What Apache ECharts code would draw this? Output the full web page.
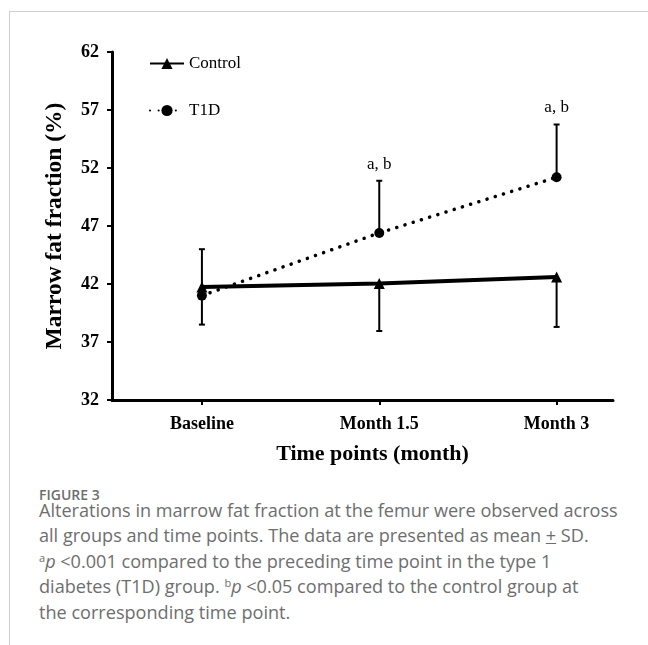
<!DOCTYPE html>
<html>
<head>
<meta charset="utf-8">
<script src="https://cdn.jsdelivr.net/npm/echarts@6/dist/echarts.min.js"></script>
<style>
  html, body { margin: 0; padding: 0; background: #fff; }
  #wrap { position: relative; width: 648px; height: 645px; overflow: hidden; }
  #frame { position: absolute; left: 9px; top: 11px; right: -2px; bottom: -2px;
           border-left: 1px solid #cfcfcf; border-top: 1px solid #cfcfcf; }
  #chart { position: absolute; left: 0; top: 0; width: 648px; height: 470px; }
  .cap { position: absolute; left: 39px; color: #6e6e6e; font-family: "Open Sans", "Noto Sans", sans-serif; }
  #figno { top: 486px; font-size: 14px; line-height: 18px; font-weight: 600; }
  #captxt { top: 498px; font-size: 18.1px; line-height: 25.4px; white-space: nowrap; }
  #captxt sup { font-size: 11px; vertical-align: 6px; line-height: 0; }
</style>
</head>
<body>
<div id="wrap">
  <div id="frame"></div>
  <div id="chart"></div>
  <div class="cap" id="figno">FIGURE 3</div>
  <div class="cap" id="captxt">
    Alterations in marrow fat fraction at the femur were observed across<br>
    all groups and time points. The data are presented as mean <u>+</u> SD.<br>
    <sup>a</sup><i>p</i> &lt;0.001 compared to the preceding time point in the type 1<br>
    diabetes (T1D) group. <sup>b</sup><i>p</i> &lt;0.05 compared to the control group at<br>
    the corresponding time point.
  </div>
</div>
<script>
"use strict";

// 时间点
const categories = ["Baseline", "Month 1.5", "Month 3"];
// 均值
const controlMean = [41.75, 42.05, 42.6];
const t1dMean     = [41.0, 46.4, 51.2];
// 标准差（对照组画下方误差线，T1D 画上方误差线）
const controlSD   = [3.25, 4.1, 4.3];
const t1dSD       = [4.0, 4.5, 4.55];
// 显著性标注
const t1dMarks    = ["", "a, b", "a, b"];

const SERIF = '"Liberation Serif", "Times New Roman", serif';

const chart = echarts.init(document.getElementById("chart"));

const toPts = arr => arr.map((v, i) => [i, v]);

// 误差线数据: [x, 端点, 均值, 标注]
const errData = [];
categories.forEach((c, i) => {
  errData.push([i, controlMean[i] - controlSD[i], controlMean[i], ""]);
  errData.push([i, t1dMean[i] + t1dSD[i], t1dMean[i], t1dMarks[i]]);
});

function renderErr(params, api) {
  const x    = api.value(0);
  const end  = api.coord([x, api.value(1)]);
  const mid  = api.coord([x, api.value(2)]);
  const mark = errData[params.dataIndex][3];
  const cap  = 3;
  const st   = { stroke: "#000", lineWidth: 2 };
  const children = [
    { type: "line", shape: { x1: mid[0], y1: mid[1], x2: end[0], y2: end[1] }, style: st },
    { type: "line", shape: { x1: end[0] - cap, y1: end[1], x2: end[0] + cap, y2: end[1] }, style: st }
  ];
  if (mark) {
    children.push({
      type: "text",
      style: { x: end[0], y: end[1] - 8, text: mark, fill: "#000",
               font: "17px " + SERIF, align: "center", verticalAlign: "bottom" }
    });
  }
  return { type: "group", children };
}

chart.setOption({
  animation: false,
  backgroundColor: "transparent",
  grid: { left: 112, right: 35, top: 52, bottom: 69, containLabel: false },
  legend: {
    data: ["Control", "T1D"],
    orient: "vertical", left: 144, top: 50,
    itemWidth: 34, itemHeight: 14, itemGap: 30,
    textStyle: { fontFamily: SERIF, fontSize: 17, color: "#000" }
  },
  xAxis: {
    type: "value", min: -0.507, max: 2.318,
    name: "Time points (month)", nameLocation: "middle", nameGap: 43,
    nameTextStyle: { fontFamily: SERIF, fontSize: 22, fontWeight: "bold", color: "#000", padding: [0, 0, 0, 20] },
    axisLine: { onZero: false, lineStyle: { color: "#000", width: 3 } },
    axisTick: { show: true, customValues: [0, 1, 2], length: 5, lineStyle: { width: 2, color: "#000" } },
    axisLabel: {
      customValues: [0, 1, 2], margin: 15,
      formatter: v => categories[Math.round(v)] || "",
      fontFamily: SERIF, fontSize: 18, fontWeight: "bold", color: "#000"
    },
    splitLine: { show: false }
  },
  yAxis: {
    type: "value", min: 32, max: 62, interval: 5,
    name: "Marrow fat fraction (%)", nameLocation: "middle", nameGap: 45,
    nameTextStyle: { fontFamily: SERIF, fontSize: 23.5, fontWeight: "bold", color: "#000" },
    axisLine: { show: true, onZero: false, lineStyle: { color: "#000", width: 3 } },
    axisTick: { show: true, length: 5, lineStyle: { width: 2, color: "#000" } },
    axisLabel: { margin: 13, fontFamily: SERIF, fontSize: 18, fontWeight: "bold", color: "#000" },
    splitLine: { show: false }
  },
  series: [
    {
      type: "custom", name: "err", renderItem: renderErr,
      data: errData, z: 1, silent: true
    },
    {
      name: "Control", type: "line", data: toPts(controlMean),
      symbol: "triangle", symbolSize: 11,
      itemStyle: { color: "#000" },
      lineStyle: { color: "#000", width: 4 }, z: 3
    },
    {
      name: "T1D", type: "line", data: toPts(t1dMean),
      symbol: "circle", symbolSize: 10,
      itemStyle: { color: "#000" },
      lineStyle: { color: "#000", width: 3.5, type: [0.1, 8.5], cap: "round" }, z: 2
    }
  ]
});
</script>
</body>
</html>
